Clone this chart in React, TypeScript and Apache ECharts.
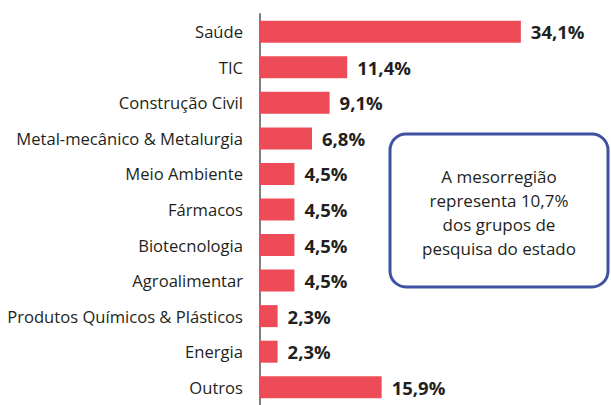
import React, { useEffect, useRef } from "react";
import * as echarts from "echarts";

const categories = [
  "Saúde",
  "TIC",
  "Construção Civil",
  "Metal-mecânico & Metalurgia",
  "Meio Ambiente",
  "Fármacos",
  "Biotecnologia",
  "Agroalimentar",
  "Produtos Químicos & Plásticos",
  "Energia",
  "Outros",
];
const values = [34.1, 11.4, 9.1, 6.8, 4.5, 4.5, 4.5, 4.5, 2.3, 2.3, 15.9];
const boxLines = ["A mesorregião", "representa 10,7%", "dos grupos de", "pesquisa do estado"];

const FONT = "'Open Sans', 'Noto Sans', sans-serif";

export default function App() {
  const ref = useRef<HTMLDivElement>(null);
  useEffect(() => {
    if (!ref.current) return;
    const chart = echarts.init(ref.current, null, { renderer: "svg" });
    chart.setOption({
      animation: false,
      backgroundColor: "#ffffff",
      grid: { left: 260, top: 14, width: 306, height: 396, containLabel: false },
      xAxis: {
        type: "value",
        min: 0,
        max: 40,
        show: false,
      },
      yAxis: {
        type: "category",
        data: categories,
        inverse: true,
        axisLine: { show: true, lineStyle: { color: "#7f7f7f", width: 2 } },
        axisTick: { show: false },
        axisLabel: {
          color: "#231f20",
          fontSize: 16.6,
          fontFamily: FONT,
          margin: 17,
        },
      },
      series: [
        {
          type: "bar",
          data: values,
          barWidth: 22,
          itemStyle: { color: "#ee4b58" },
          label: {
            show: true,
            position: "right",
            distance: 10,
            color: "#231f20",
            fontSize: 18.5,
            fontWeight: "bold",
            fontFamily: FONT,
            formatter: (p: any) => p.value.toFixed(1).replace(".", ",") + "%",
          },
        },
      ],
      graphic: [
        {
          type: "rect",
          shape: { x: 390, y: 134, width: 218, height: 153, r: 16 },
          style: { fill: "#ffffff", stroke: "#3f52a2", lineWidth: 3 },
        },
        {
          type: "text",
          x: 499,
          y: 212,
          style: {
            text: boxLines.join("\n"),
            fill: "#231f20",
            fontSize: 17,
            fontFamily: FONT,
            lineHeight: 24,
            align: "center",
            verticalAlign: "middle",
          },
        },
      ],
    });
    return () => chart.dispose();
  }, []);
  return (
    <div
      ref={ref}
      style={{ position: "absolute", left: 0, top: 0, width: 611, height: 405 }}
    />
  );
}
